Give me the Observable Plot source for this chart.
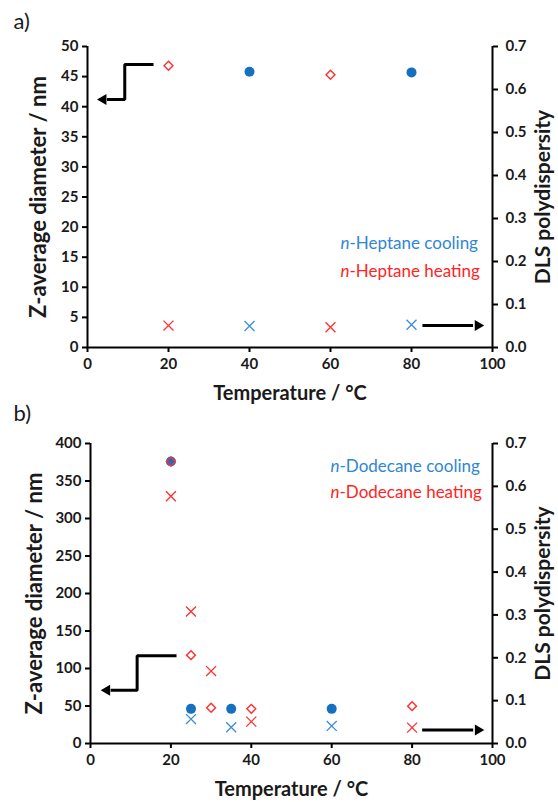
<!DOCTYPE html>
<html><head><meta charset="utf-8">
<script src="https://cdn.jsdelivr.net/npm/d3@7"></script>
<script src="https://cdn.jsdelivr.net/npm/@observablehq/plot@0.6"></script>
<style>
html,body{margin:0;padding:0;background:#fff;}
#chart{width:558px;height:802px;position:relative;overflow:hidden;}
#chart svg{display:block;}
</style></head><body><div id="chart"></div>
<script>
// ---- Panel a: n-Heptane ----
const aCoolT = [40, 80];
const aCoolZ = [45.8, 45.7];
const aCoolPdiT = [40, 80];
const aCoolPdi = [0.050, 0.053];
const aHeatT = [20, 60];
const aHeatZ = [46.8, 45.3];
const aHeatPdiT = [20, 60];
const aHeatPdi = [0.051, 0.047];
// ---- Panel b: n-Dodecane ----
const bCoolT = [20, 25, 35, 60];
const bCoolZ = [376, 46.2, 46.2, 46.2];
const bCoolPdiT = [25, 35, 60];
const bCoolPdi = [0.057, 0.038, 0.041];
const bHeatT = [20, 25, 30, 40, 80];
const bHeatZ = [376, 117.8, 47.6, 46.2, 49.8];
const bHeatPdiT = [20, 25, 30, 40, 80];
const bHeatPdi = [0.577, 0.308, 0.169, 0.051, 0.037];
// ---- ticks & labels ----
const xTicks = [0, 20, 40, 60, 80, 100];
const aZTicks = [0, 5, 10, 15, 20, 25, 30, 35, 40, 45, 50];
const bZTicks = [0, 50, 100, 150, 200, 250, 300, 350, 400];
const pdiTicks = [0, 0.1, 0.2, 0.3, 0.4, 0.5, 0.6, 0.7];
const xTitle = "Temperature / °C";
const yTitle = "Z-average diameter / nm";
const y2Title = "DLS polydispersity";
const aLegend = ["n-Heptane cooling", "n-Heptane heating"];
const bLegend = ["n-Dodecane cooling", "n-Dodecane heating"];
// annotation arrows (data units: temperature, nm)
const aArrowL = {t: [16.3, 9.2, 9.2, 4.8], z: [47, 47, 41.2, 41.2], headT: 3.9};
const aArrowR = {t: [82.7, 95.2], z: [3.65, 3.65], headT: 96.4};
const bArrowL = {t: [21.4, 11.6, 11.6, 5.0], z: [117, 117, 71, 71], headT: 4.1};
const bArrowR = {t: [82.5, 95.2], z: [18, 18], headT: 96.4};

const BLUE = "#1570c0", BLUE_X = "#3a8dd6", BLUE_T = "#2f86d2";
const RED = "#ff2e2e", RED_T = "#ff2424";
const INK = "#1a1a1a";
const FONT = "Lato, 'Open Sans', sans-serif";

const rows = (ts, vs, f = 1) => ts.map((t, i) => ({t, v: vs[i] * f}));

function panel(o) {
  const k = o.zMax / 0.7;
  const axisStyle = {tickSize: 5, strokeWidth: 2, fontSize: 15, fontWeight: "bold", fill: INK, label: null};
  const arrow = (a, rot) => [
    Plot.line(a.t.map((t, i) => ({t, v: a.z[i]})), {x: "t", y: "v", stroke: "#000", strokeWidth: 3, strokeLinejoin: "miter", strokeLinecap: "butt"}),
    Plot.dot([{t: a.headT, v: a.z[a.z.length - 1]}], {x: "t", y: "v", symbol: "triangle2", r: 5.2, fill: "#000", stroke: "none", rotate: rot})
  ];
  const svg = Plot.plot({
    width: 558, height: o.height,
    marginLeft: o.ml, marginRight: 66, marginTop: o.mt, marginBottom: o.mb,
    style: {fontFamily: FONT, fontSize: "15px", background: "#fff", overflow: "visible"},
    x: {domain: [0, 100]},
    y: {domain: [0, o.zMax]},
    marks: [
      Plot.axisX(xTicks, {...axisStyle, anchor: "bottom", tickPadding: 6}),
      Plot.axisY(o.zTicks, {...axisStyle, anchor: "left", tickPadding: 4}),
      Plot.axisY(pdiTicks.map(p => p * k), {...axisStyle, anchor: "right", tickPadding: 8, tickFormat: d => (d / k).toFixed(1)}),
      Plot.ruleY([0], {stroke: "#000", strokeWidth: 2}),
      Plot.ruleX([0], {stroke: "#000", strokeWidth: 2}),
      Plot.ruleX([100], {stroke: "#000", strokeWidth: 2}),
      Plot.dot(rows(o.coolT, o.coolZ), {x: "t", y: "v", symbol: "circle", r: 5, fill: BLUE, stroke: "none"}),
      Plot.dot(rows(o.heatT, o.heatZ), {x: "t", y: "v", symbol: "diamond2", r: 4, fill: "none", stroke: RED, strokeWidth: 1.4}),
      Plot.dot(rows(o.coolPdiT, o.coolPdi, k), {x: "t", y: "v", symbol: "times", r: 4.6, stroke: BLUE_X, strokeWidth: 1.3}),
      Plot.dot(rows(o.heatPdiT, o.heatPdi, k), {x: "t", y: "v", symbol: "times", r: 4.6, stroke: RED, strokeWidth: 1.3}),
      ...arrow(o.arrowL, -90),
      ...arrow(o.arrowR, 90),
      Plot.text([xTitle], {text: d => d, frameAnchor: "bottom", lineAnchor: "middle", dy: 46, fontSize: 20, fontWeight: "bold", fill: INK}),
      Plot.text([yTitle], {text: d => d, frameAnchor: "left", textAnchor: "middle", lineAnchor: "middle", rotate: -90, dx: o.yTitleDx, fontSize: 22, fontWeight: "bold", fill: INK}),
      Plot.text([y2Title], {text: d => d, frameAnchor: "right", textAnchor: "middle", lineAnchor: "middle", rotate: -90, dx: 51, fontSize: 21, fontWeight: "bold", fill: INK}),
      Plot.text([o.legend[0]], {text: d => d, frameAnchor: "top-left", textAnchor: "start", lineAnchor: "middle", dx: o.legDx, dy: o.legDy[0], fontSize: 17, fontWeight: "normal", fill: BLUE_T}),
      Plot.text([o.legend[1]], {text: d => d, frameAnchor: "top-left", textAnchor: "start", lineAnchor: "middle", dx: o.legDx, dy: o.legDy[1], fontSize: 17, fontWeight: "normal", fill: RED_T}),
      Plot.text([o.label], {text: d => d, frameAnchor: "top-left", textAnchor: "start", lineAnchor: "middle", dx: o.labDx, dy: o.labDy, fontSize: 22, fontWeight: "normal", fill: INK})
    ]
  });
  svg.querySelectorAll("text").forEach(t => {
    const s = t.textContent;
    if (s.startsWith("n-")) {
      t.textContent = "";
      const ts = document.createElementNS("http://www.w3.org/2000/svg", "tspan");
      ts.setAttribute("font-style", "italic");
      ts.textContent = "n";
      t.appendChild(ts);
      t.appendChild(document.createTextNode(s.slice(1)));
    }
  });
  return svg;
}

const chart = document.getElementById("chart");
chart.appendChild(panel({
  label: "a)", height: 402, ml: 87, mt: 46, mb: 55, zMax: 50, zTicks: aZTicks,
  coolT: aCoolT, coolZ: aCoolZ, heatT: aHeatT, heatZ: aHeatZ,
  coolPdiT: aCoolPdiT, coolPdi: aCoolPdi, heatPdiT: aHeatPdiT, heatPdi: aHeatPdi,
  arrowL: aArrowL, arrowR: aArrowR, legend: aLegend, legDx: 253, legDy: [197, 225],
  yTitleDx: -49, labDx: -74, labDy: -25
}));
chart.appendChild(panel({
  label: "b)", height: 400, ml: 90, mt: 41, mb: 59, zMax: 400, zTicks: bZTicks,
  coolT: bCoolT, coolZ: bCoolZ, heatT: bHeatT, heatZ: bHeatZ,
  coolPdiT: bCoolPdiT, coolPdi: bCoolPdi, heatPdiT: bHeatPdiT, heatPdi: bHeatPdi,
  arrowL: bArrowL, arrowR: bArrowR, legend: bLegend, legDx: 240, legDy: [23, 49],
  yTitleDx: -56, labDx: -77, labDy: -30
}));
</script></body></html>
